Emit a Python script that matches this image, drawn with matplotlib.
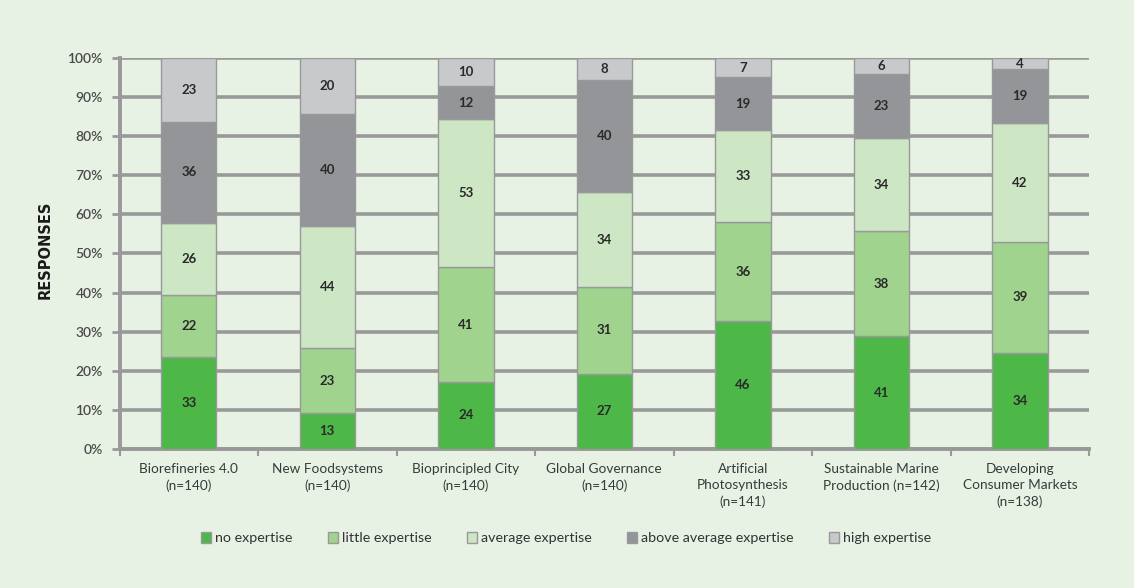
import matplotlib
matplotlib.use("Agg")
import matplotlib.pyplot as plt
import numpy as np

categories = [
    "Biorefineries 4.0\n(n=140)",
    "New Foodsystems\n(n=140)",
    "Bioprincipled City\n(n=140)",
    "Global Governance\n(n=140)",
    "Artificial\nPhotosynthesis\n(n=141)",
    "Sustainable Marine\nProduction (n=142)",
    "Developing\nConsumer Markets\n(n=138)",
]
no_expertise = [33, 13, 24, 27, 46, 41, 34]
little_expertise = [22, 23, 41, 31, 36, 38, 39]
average_expertise = [26, 44, 53, 34, 33, 34, 42]
above_average_expertise = [36, 40, 12, 40, 19, 23, 19]
high_expertise = [23, 20, 10, 8, 7, 6, 4]

series_names = ["no expertise", "little expertise", "average expertise",
                "above average expertise", "high expertise"]
series = [no_expertise, little_expertise, average_expertise,
          above_average_expertise, high_expertise]
colors = ["#4db848", "#9fd38e", "#cde6c4", "#939598", "#c8c9cb"]

y_ticks = [0, 10, 20, 30, 40, 50, 60, 70, 80, 90, 100]
y_tick_labels = [f"{v}%" for v in y_ticks]

bg = "#e7f2e5"
grid_c = "#999999"
font = "Lato"

fig = plt.figure(figsize=(11.34, 5.88), dpi=100, facecolor=bg)
ax = fig.add_axes([0.1054, 0.2364, 0.855, 0.665], facecolor=bg)

counts = np.array(series, dtype=float)
totals = counts.sum(axis=0)
pct = counts / totals * 100
x = np.arange(len(categories))

bottom = np.zeros(len(categories))
for i, name in enumerate(series_names):
    ax.bar(x, pct[i], bottom=bottom, width=0.40, color=colors[i],
           edgecolor=grid_c, linewidth=1.0, label=name, zorder=3)
    for j in range(len(categories)):
        ax.text(x[j], bottom[j] + pct[i][j] / 2, f"{int(counts[i][j])}",
                ha="center", va="center", fontsize=9.5, fontweight="bold",
                color="#2a2a2a", family=font, zorder=4)
    bottom += pct[i]

ax.set_xlim(-0.5, len(categories) - 0.5)
ax.set_ylim(0, 100)
ax.set_yticks(y_ticks)
ax.set_yticklabels(y_tick_labels, fontsize=10, color="#4a4a4a", family=font,
                   fontweight="semibold")
ax.yaxis.grid(True, color=grid_c, linewidth=2.6, zorder=1)
ax.set_axisbelow(True)

ax.set_xticks(np.arange(len(categories) + 1) - 0.5)
ax.set_xticklabels([])
ax.set_xticks(x, minor=True)
ax.set_xticklabels(categories, minor=True, fontsize=9.8, color="#3a3a3a",
                   family=font, linespacing=1.4)
ax.tick_params(axis="x", which="major", direction="out", length=5,
               width=1.5, color=grid_c)
ax.tick_params(axis="x", which="minor", length=0, pad=10)
ax.tick_params(axis="y", direction="out", length=6, width=2, color=grid_c,
               pad=6)

for s in ["top", "right"]:
    ax.spines[s].set_visible(False)
ax.spines["left"].set_color(grid_c)
ax.spines["left"].set_linewidth(2.8)
ax.spines["bottom"].set_color(grid_c)
ax.spines["bottom"].set_linewidth(2.8)

fig.text(45 / 1134, 1 - 250 / 588, "RESPONSES", rotation=90, ha="center",
         va="center", fontsize=10.5, fontweight="bold", color="#1a1a1a",
         family="DejaVu Sans")

leg = fig.legend(loc="center", bbox_to_anchor=(566 / 1134, 1 - 538 / 588),
                 ncol=5, frameon=False, handlelength=0.7, handleheight=0.8,
                 handletextpad=0.25, columnspacing=2.5,
                 prop={"family": font, "size": 10.3})
for t in leg.get_texts():
    t.set_color("#333333")

fig.savefig("out.png", dpi=100, facecolor=bg)
